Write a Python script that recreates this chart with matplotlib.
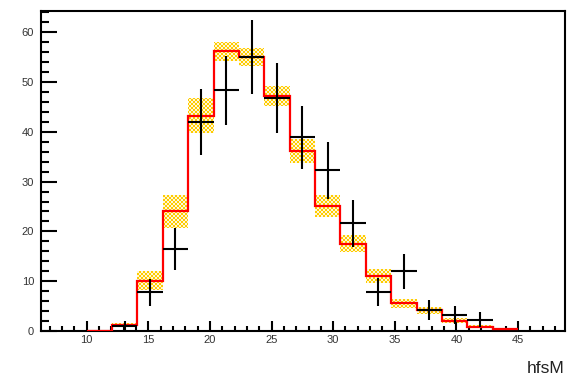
import numpy as np
import matplotlib
matplotlib.use("Agg")
import matplotlib.pyplot as plt
from matplotlib.path import Path
from matplotlib.patches import PathPatch
from matplotlib.ticker import MultipleLocator

# ---- histogram contents (17 bins between 10 and 45) ----
edges = np.linspace(10.0, 45.0, 18)
mc = [0.0, 1.3, 10.1, 24.0, 43.2, 56.2, 55.1, 47.2, 36.2, 25.1,
      17.5, 11.0, 5.6, 4.2, 2.1, 0.9, 0.4]
mc_err = [0.0, 0.3, 1.9, 3.3, 3.5, 1.9, 1.8, 2.0, 2.4, 2.3,
          1.7, 1.4, 0.9, 0.7, 0.5, 0.3, 0.2]
data = [0.0, 1.0, 7.8, 16.5, 42.0, 48.3, 55.0, 46.8, 38.9, 32.3,
        21.6, 7.8, 12.0, 4.2, 3.2, 2.3, 0.0]
data_err = [0.0, 1.0, 2.7, 4.2, 6.6, 7.0, 7.4, 7.1, 6.3, 5.7,
            4.7, 2.8, 3.5, 2.0, 1.8, 1.5, 0.0]

GOLD = "#ffcc00"
XLIM = (6.3, 48.8)
YLIM = (0.0, 64.2)

plt.rcParams["font.family"] = ["Liberation Sans", "DejaVu Sans"]

fig = plt.figure(figsize=(5.83, 3.77), dpi=100)
ax = fig.add_axes([0.0703, 0.122, 0.8987, 0.848])
ax.set_xlim(*XLIM)
ax.set_ylim(*YLIM)

mc = np.asarray(mc)
mc_err = np.asarray(mc_err)
data = np.asarray(data)
data_err = np.asarray(data_err)
centers = 0.5 * (edges[:-1] + edges[1:])
halfw = 0.5 * np.diff(edges)

# ---- MC uncertainty band: checkerboard texture clipped to bin rectangles ----
rects = []
for lo, hi, v, e in zip(edges[:-1], edges[1:], mc, mc_err):
    if e <= 0:
        continue
    rects.append(Path([(lo, v - e), (hi, v - e), (hi, v + e), (lo, v + e), (lo, v - e)],
                      [Path.MOVETO, Path.LINETO, Path.LINETO, Path.LINETO, Path.CLOSEPOLY]))
band_path = Path.make_compound_path(*rects)
clip = PathPatch(band_path, transform=ax.transData, facecolor="none", edgecolor="none")
ax.add_patch(clip)

cell = 2  # px per checker square
nx, ny = int(524 / cell), int(320 / cell)
ii, jj = np.meshgrid(np.arange(nx), np.arange(ny))
checker = ((ii + jj) % 2 == 0)
rgba = np.ones((ny, nx, 4))
rgba[checker] = matplotlib.colors.to_rgba(GOLD)
rgba[~checker] = [1.0, 0.97, 0.85, 1.0]
im = ax.imshow(rgba, extent=[*XLIM, *YLIM], aspect="auto",
               interpolation="nearest", origin="lower", zorder=1)
im.set_clip_path(clip)

# ---- MC histogram outline ----
ax.stairs(mc, edges, color="red", lw=1.6, baseline=None, zorder=3)

# ---- data points with errors ----
sel = data > 0
ax.errorbar(centers[sel], data[sel], xerr=halfw[sel], yerr=data_err[sel],
            fmt="none", ecolor="black", elinewidth=1.5, capsize=0, zorder=4)

# ---- ROOT-like axes ----
for sp in ax.spines.values():
    sp.set_linewidth(1.5)
ax.xaxis.set_major_locator(MultipleLocator(5))
ax.xaxis.set_minor_locator(MultipleLocator(1))
ax.yaxis.set_major_locator(MultipleLocator(10))
ax.yaxis.set_minor_locator(MultipleLocator(2))
ax.tick_params(axis="x", which="major", direction="in", length=7.0, width=1.5,
               labelsize=8, labelcolor="#333333", pad=3)
ax.tick_params(axis="x", which="minor", direction="in", length=3.5, width=1.5)
ax.tick_params(axis="y", which="major", direction="in", length=11.3, width=1.5,
               labelsize=8, labelcolor="#333333", pad=5)
ax.tick_params(axis="y", which="minor", direction="in", length=5.7, width=1.5)
ax.tick_params(top=False, right=False)

ax.text(1.0, -0.095, "hfsM", transform=ax.transAxes, ha="right", va="top",
        fontsize=12.5, color="#222222")

fig.savefig("out.png", dpi=100)
